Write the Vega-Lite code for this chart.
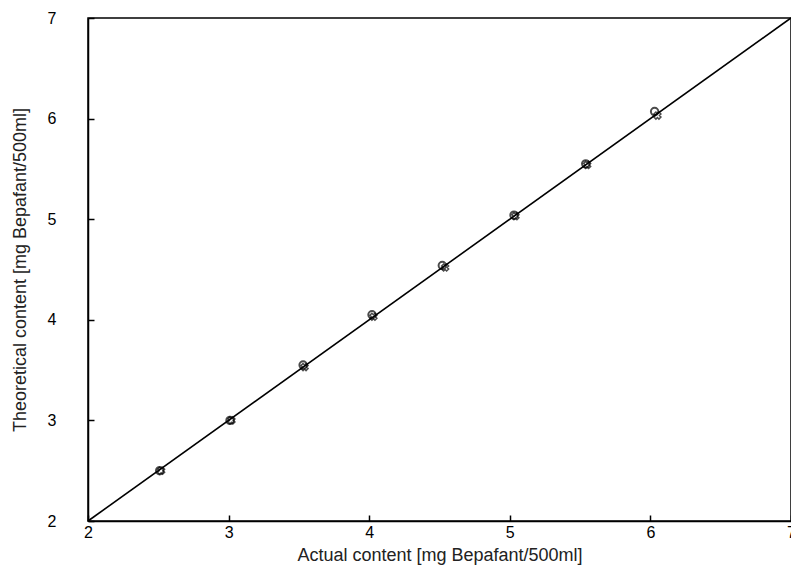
{
  "$schema": "https://vega.github.io/schema/vega-lite/v6.json",
  "width": 703,
  "height": 503,
  "autosize": {"type": "none"},
  "padding": {"left": 88, "top": 18, "right": 0, "bottom": 56},
  "background": "white",
  "config": {
    "view": {"stroke": "black", "strokeWidth": 1.5},
    "font": "Liberation Sans",
    "axis": {
      "grid": false,
      "domainColor": "black",
      "domainWidth": 1.5,
      "tickColor": "black",
      "tickSize": -6,
      "tickWidth": 1.5,
      "labelFont": "Liberation Sans",
      "labelFontSize": 16,
      "labelColor": "black",
      "titleFont": "Liberation Sans",
      "titleFontSize": 18,
      "titleFontWeight": "normal",
      "titleColor": "#222"
    }
  },
  "datasets": {
    "pts": [
      {"actual": 2.51, "theo": 2.50, "series": "circle"},
      {"actual": 3.01, "theo": 3.00, "series": "circle"},
      {"actual": 3.53, "theo": 3.55, "series": "circle"},
      {"actual": 4.02, "theo": 4.05, "series": "circle"},
      {"actual": 4.52, "theo": 4.54, "series": "circle"},
      {"actual": 5.03, "theo": 5.04, "series": "circle"},
      {"actual": 5.54, "theo": 5.55, "series": "circle"},
      {"actual": 6.03, "theo": 6.07, "series": "circle"},
      {"actual": 2.52, "theo": 2.50, "series": "cross"},
      {"actual": 3.02, "theo": 3.00, "series": "cross"},
      {"actual": 3.54, "theo": 3.53, "series": "cross"},
      {"actual": 4.03, "theo": 4.03, "series": "cross"},
      {"actual": 4.54, "theo": 4.52, "series": "cross"},
      {"actual": 5.04, "theo": 5.03, "series": "cross"},
      {"actual": 5.55, "theo": 5.54, "series": "cross"},
      {"actual": 6.05, "theo": 6.03, "series": "cross"}
    ],
    "diag": [
      {"actual": 2, "theo": 2},
      {"actual": 7, "theo": 7}
    ]
  },
  "layer": [
    {
      "data": {"name": "diag"},
      "mark": {"type": "line", "color": "black", "strokeWidth": 1.6},
      "encoding": {
        "x": {
          "field": "actual", "type": "quantitative",
          "scale": {"domain": [2, 7], "nice": false, "zero": false},
          "axis": {"values": [2, 3, 4, 5, 6, 7], "format": "d", "labelPadding": 9, "title": "Actual content [mg Bepafant/500ml]", "titlePadding": 6, "labelFlush": false}
        },
        "y": {
          "field": "theo", "type": "quantitative",
          "scale": {"domain": [2, 7], "nice": false, "zero": false},
          "axis": {"values": [2, 3, 4, 5, 6, 7], "format": "d", "labelPadding": 38, "title": "Theoretical content [mg Bepafant/500ml]", "titlePadding": 18, "labelFlush": false}
        }
      }
    },
    {
      "data": {"name": "pts"},
      "transform": [{"filter": "datum.series === 'circle'"}],
      "mark": {"type": "point", "shape": "circle", "filled": false, "color": "black", "size": 55, "strokeWidth": 2},
      "encoding": {
        "x": {"field": "actual", "type": "quantitative"},
        "y": {"field": "theo", "type": "quantitative"}
      }
    },
    {
      "data": {"name": "pts"},
      "transform": [{"filter": "datum.series === 'cross'"}],
      "mark": {"type": "point", "shape": "cross", "angle": 45, "filled": false, "color": "black", "size": 50, "strokeWidth": 1.5},
      "encoding": {
        "x": {"field": "actual", "type": "quantitative"},
        "y": {"field": "theo", "type": "quantitative"}
      }
    }
  ]
}
